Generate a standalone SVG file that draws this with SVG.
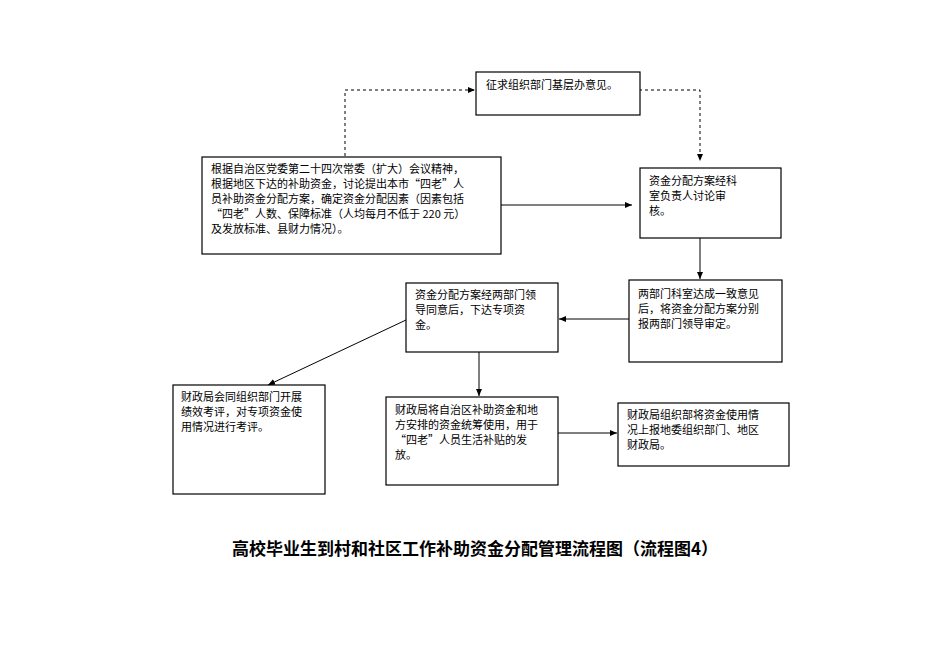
<svg xmlns="http://www.w3.org/2000/svg" width="950" height="672" viewBox="0 0 950 672">
<style>
rect{fill:#fff;stroke:#000;stroke-width:1.2}
text{font-family:"Noto Sans CJK SC","Liberation Serif",serif;font-size:11px;fill:#000}
.c line,.c path{stroke:#000;stroke-width:1;fill:none}
.d{stroke-dasharray:3,3}
.t{font-size:17px;font-weight:bold}
</style>
<defs><marker id="a" markerWidth="8" markerHeight="8" refX="7" refY="4" orient="auto" markerUnits="userSpaceOnUse"><path d="M0,1 L7,4 L0,7z" fill="#000"/></marker></defs>
<rect width="950" height="672" style="fill:#fff;stroke:none"/>
<g class="c">
<path class="d" d="M345,156 V90 H475" marker-end="url(#a)"/>
<path class="d" d="M615,90 H700 V161" marker-end="url(#a)"/>
<line x1="501" y1="205" x2="632" y2="205" marker-end="url(#a)"/>
<line x1="700" y1="238" x2="700" y2="279" marker-end="url(#a)"/>
<line x1="629" y1="319" x2="559" y2="319" marker-end="url(#a)"/>
<line x1="406" y1="320" x2="268" y2="385" marker-end="url(#a)"/>
<line x1="479" y1="352" x2="479" y2="396" marker-end="url(#a)"/>
<line x1="558" y1="433" x2="617" y2="433" marker-end="url(#a)"/>
</g>
<g id="n1"><rect x="476" y="72" width="164" height="43"/><text x="486" y="89">征求组织部门基层办意见。</text></g>
<g id="n2"><rect x="202" y="157" width="299" height="97"/>
<text x="211" y="173">根据自治区党委第二十四次常委（扩大）会议精神，</text>
<text x="211" y="188">根据地区下达的补助资金，讨论提出本市“四老”人</text>
<text x="211" y="203">员补助资金分配方案，确定资金分配因素（因素包括</text>
<text x="211" y="218">“四老”人数、保障标准（人均每月不低于 220 元）</text>
<text x="211" y="233">及发放标准、县财力情况）。</text></g>
<g id="n3"><rect x="640" y="168" width="141" height="70"/>
<text x="649" y="185">资金分配方案经科</text><text x="649" y="200">室负责人讨论审</text><text x="649" y="215">核。</text></g>
<g id="n4"><rect x="629" y="280" width="153" height="82"/>
<text x="638" y="298">两部门科室达成一致意见</text><text x="638" y="313">后，将资金分配方案分别</text><text x="638" y="328">报两部门领导审定。</text></g>
<g id="n5"><rect x="406" y="283" width="152" height="69"/>
<text x="415" y="299">资金分配方案经两部门领</text><text x="415" y="314">导同意后，下达专项资</text><text x="415" y="329">金。</text></g>
<g id="n6"><rect x="173" y="385" width="152" height="109"/>
<text x="181" y="401">财政局会同组织部门开展</text><text x="181" y="416">绩效考评，对专项资金使</text><text x="181" y="431">用情况进行考评。</text></g>
<g id="n7"><rect x="386" y="397" width="172" height="88"/>
<text x="395" y="414">财政局将自治区补助资金和地</text><text x="395" y="429">方安排的资金统筹使用，用于</text><text x="395" y="444">“四老”人员生活补贴的发</text><text x="395" y="459">放。</text></g>
<g id="n8"><rect x="618" y="403" width="171" height="63"/>
<text x="627" y="419">财政局组织部将资金使用情</text><text x="627" y="434">况上报地委组织部门、地区</text><text x="627" y="449">财政局。</text></g>
<text class="t" x="475" y="555" text-anchor="middle">高校毕业生到村和社区工作补助资金分配管理流程图（流程图4）</text>
</svg>
